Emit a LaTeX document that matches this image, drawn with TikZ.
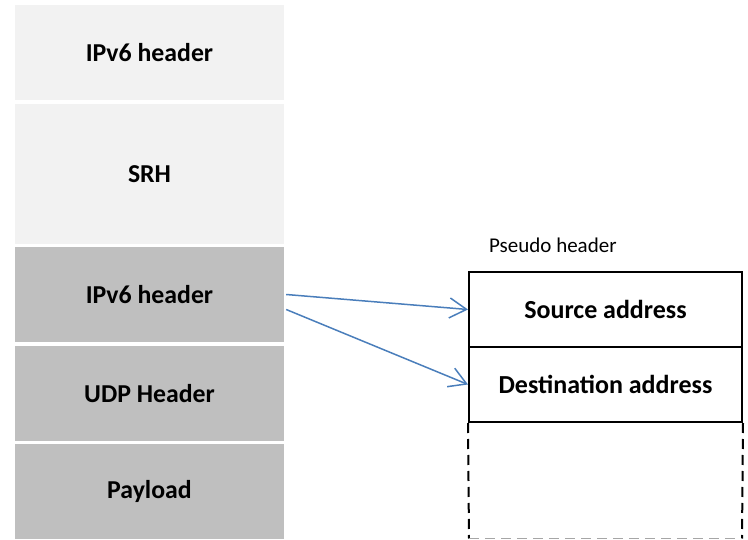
\documentclass[tikz,border=0pt]{standalone}
\usepackage{fontspec}
\setmainfont{Carlito}
\usetikzlibrary{arrows.meta}
\definecolor{lightfill}{HTML}{F2F2F2}
\definecolor{darkfill}{HTML}{BFBFBF}
\definecolor{arrowblue}{HTML}{4A7EBB}
\definecolor{dashgray}{HTML}{A6A6A6}
\tikzset{
  layer/.style={rectangle, draw=none, minimum width=269pt, inner sep=0pt,
    font=\fontsize{25.8}{30}\selectfont\bfseries},
  outer/.style={layer, fill=lightfill},
  inner/.style={layer, fill=darkfill},
  field/.style={rectangle, draw=black, line width=2pt, minimum width=273pt,
    minimum height=75pt, inner sep=0pt, font=\fontsize{26}{30}\selectfont\bfseries},
  copyarrow/.style={draw=arrowblue, line width=1.5pt,
    -{Straight Barb[length=17pt,width=20pt,line width=1.5pt]}},
  openside/.style={line width=2pt, dash pattern=on 10pt off 6pt},
}
\begin{document}
\begin{tikzpicture}[x=1pt,y=-1pt]
\useasboundingbox (0,0) rectangle (748,540);
% packet stack
\node[outer, minimum height=95pt]  (ipouter) at (149.5,52.5)  {IPv6 header};
\node[outer, minimum height=140pt] (srh)     at (149.5,174)   {SRH};
\node[inner, minimum height=95pt]  (ipinner) at (149.5,294.5) {IPv6 header};
\node[inner, minimum height=95pt]  (udp)     at (149.5,393.5) {UDP Header};
\node[inner, minimum height=95pt]  (payload) at (149.5,491.5) {Payload};
% pseudo header
\node[anchor=base west, inner sep=0pt, font=\fontsize{21}{25}\selectfont] (pseudo) at (489,253) {Pseudo header};
\node[field] (src) at (605.5,309.5) {Source address};
\node[field] (dst) at (605.5,384.5) {Destination address};
\coordinate (openbl) at (469,538.5);
\coordinate (openbr) at (742,538.5);
\draw[openside] (dst.south west) -- (openbl);
\draw[openside] (dst.south east) -- (openbr);
\draw[openside, draw=dashgray, line width=1.5pt] (openbl) -- (openbr);
% address copies
\draw[copyarrow] ([xshift=2pt,yshift=0pt]ipinner.east) -- (src.west);
\draw[copyarrow] ([xshift=2pt,yshift=-15pt]ipinner.east) -- (dst.west);
\end{tikzpicture}
\end{document}
